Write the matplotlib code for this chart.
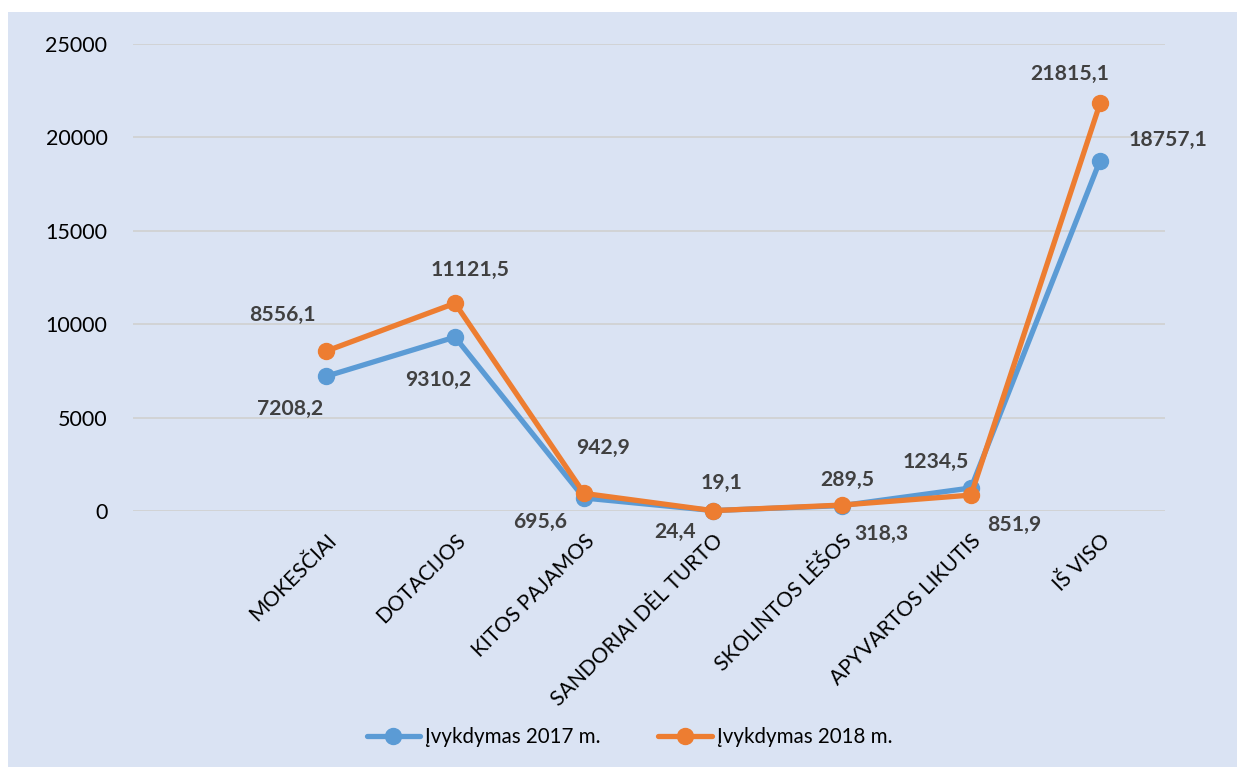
import matplotlib
matplotlib.use("Agg")
import matplotlib.pyplot as plt
from matplotlib.patches import Rectangle

categories = ["MOKESČIAI", "DOTACIJOS", "KITOS PAJAMOS", "SANDORIAI DĖL TURTO",
              "SKOLINTOS LĖŠOS", "APYVARTOS LIKUTIS", "IŠ VISO"]
values_2017 = [7208.2, 9310.2, 695.6, 24.4, 289.5, 1234.5, 18757.1]
values_2018 = [8556.1, 11121.5, 942.9, 19.1, 318.3, 851.9, 21815.1]
series_names = ["Įvykdymas 2017 m.", "Įvykdymas 2018 m."]
y_ticks = [0, 5000, 10000, 15000, 20000, 25000]

# label offsets in pixels (dx right, dy up) for each point
offsets_2017 = [(-36, -33), (-17, -43), (-44, -24), (-38, -21), (5, 26), (-35, 26), (68, 21)]
offsets_2018 = [(-44, 36), (15, 33), (19, 45), (9, 28), (39, -29), (43, -30), (-30, 30)]

BG = "#DAE3F3"
BLUE = "#5B9BD5"
ORANGE = "#ED7D31"
LABEL_COLOR = "#404040"
FONT = ["Lato", "DejaVu Sans"]

plt.rcParams["font.family"] = FONT

DPI = 100
fig = plt.figure(figsize=(12.37, 7.67), dpi=DPI, facecolor="white")
fig.patches.append(Rectangle((8 / 1237, 0), 1 - 8 / 1237, 1 - 12 / 767,
                             transform=fig.transFigure, facecolor=BG,
                             edgecolor="none", zorder=-10))

left, right = 132.5 / 1237, 1164.5 / 1237
bottom, top = 1 - 511 / 767, 1 - 44 / 767
ax = fig.add_axes([left, bottom, right - left, top - bottom])
ax.set_zorder(1)
ax.set_facecolor("none")

x = list(range(len(categories)))
ax.plot(x, values_2017, color=BLUE, lw=3.8, marker="o", ms=11.5,
        label=series_names[0], clip_on=False, zorder=3,
        solid_capstyle="round", solid_joinstyle="round")
ax.plot(x, values_2018, color=ORANGE, lw=3.8, marker="o", ms=11.5,
        label=series_names[1], clip_on=False, zorder=4,
        solid_capstyle="round", solid_joinstyle="round")

px2pt = 72.0 / DPI
for vals, offs in ((values_2017, offsets_2017), (values_2018, offsets_2018)):
    for xi, v, (dx, dy) in zip(x, vals, offs):
        ax.annotate(f"{v:.1f}".replace(".", ","), (xi, v),
                    xytext=(dx * px2pt, dy * px2pt), textcoords="offset points",
                    ha="center", va="center", fontsize=15.2, fontweight="bold",
                    color=LABEL_COLOR, zorder=5)

ax.set_xlim(-1.5, 6.5)
ax.set_ylim(0, 25000)
ax.set_yticks(y_ticks)
ax.set_yticklabels([str(t) for t in y_ticks], fontsize=15.5, color="black")
ax.grid(axis="y", color="#D0D0D0", lw=1.2)
ax.set_axisbelow(True)
ax.tick_params(axis="y", length=0, pad=18)

ax.set_xticks(x)
ax.set_xticklabels(categories, rotation=45, ha="right", rotation_mode="anchor",
                   fontsize=15.2, color="black")
ax.tick_params(axis="x", length=0, pad=14)

for s in ax.spines.values():
    s.set_visible(False)

leg = fig.legend(loc="center", bbox_to_anchor=(0.509, 1 - 737 / 767), ncol=2,
                 frameon=False, fontsize=14.8, handlelength=2.6,
                 columnspacing=2.8, handletextpad=0.25)

fig.savefig("out.png", dpi=DPI, facecolor="white")
